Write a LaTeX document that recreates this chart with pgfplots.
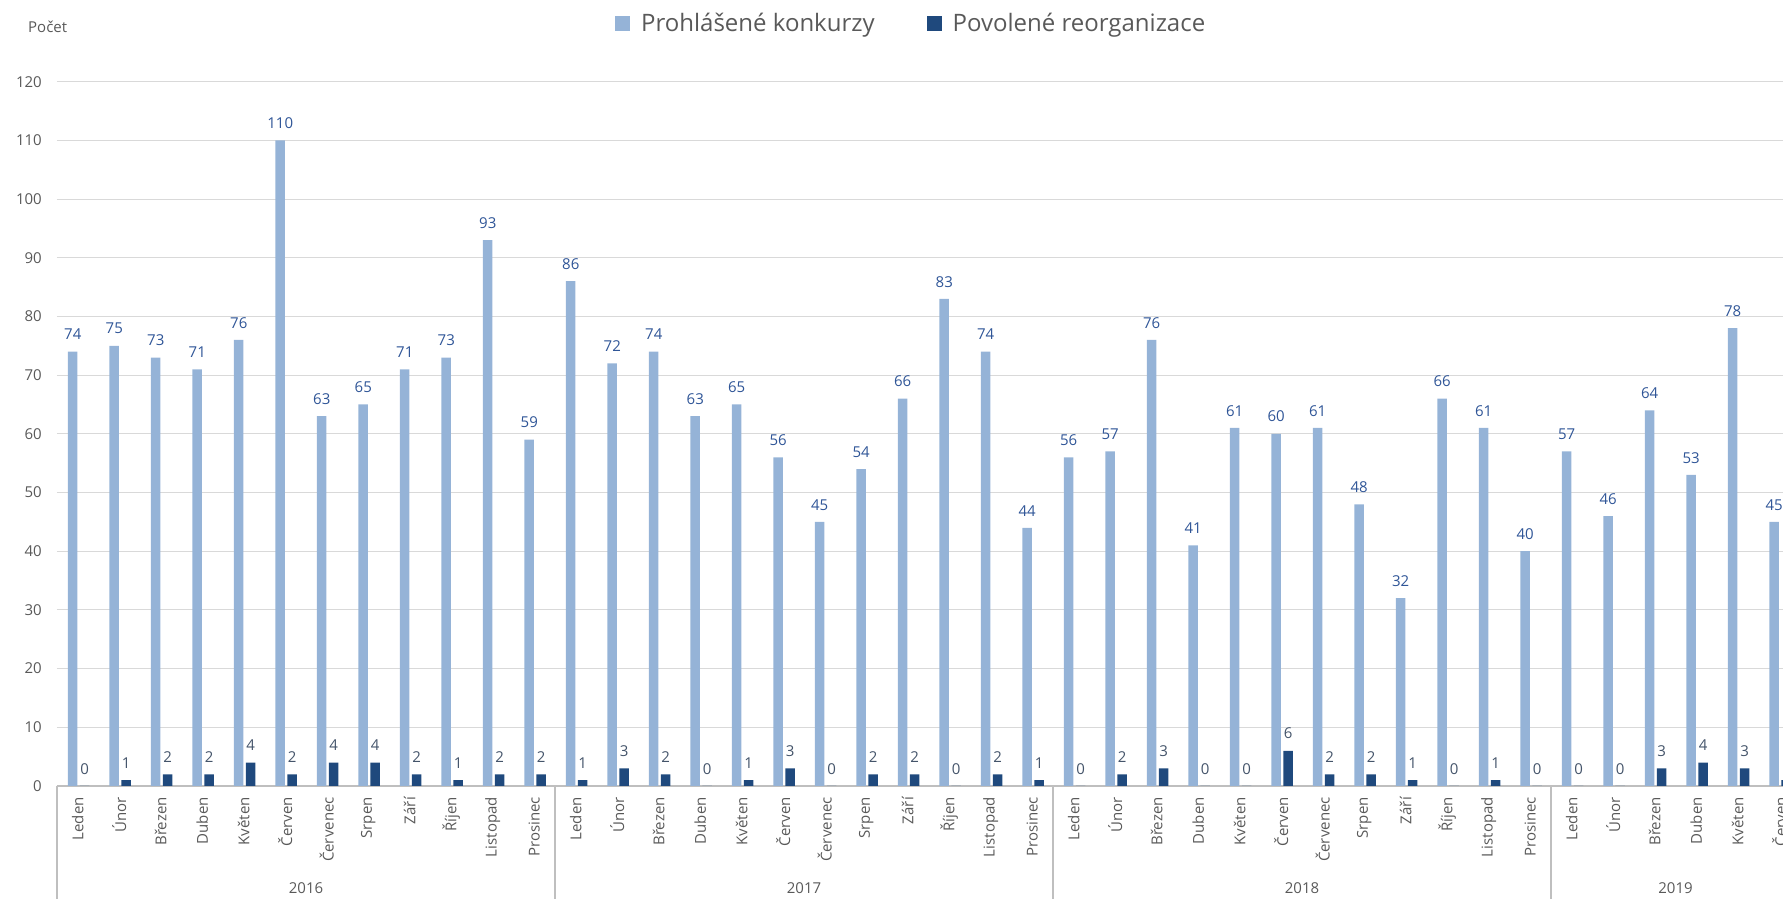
\documentclass[border=0pt]{standalone}
\usepackage{pgfplots}
\pgfplotsset{compat=1.18}
\usepackage{pgfplotstable}
\usepackage{fontspec}
\setmainfont{Open Sans}

\definecolor{lightbar}{HTML}{95B3D7}
\definecolor{darkbar}{HTML}{1F497D}
\definecolor{labblue}{HTML}{2F5597}
\definecolor{labdark}{HTML}{44546A}
\definecolor{txtgray}{HTML}{595959}
\definecolor{gridgray}{HTML}{D9D9D9}
\definecolor{axgray}{HTML}{BFBFBF}

% x = month index (2016-01 .. 2019-06), k = konkurzy, r = reorganizace
\pgfplotstableread{
x k r
0 74 0
1 75 1
2 73 2
3 71 2
4 76 4
5 110 2
6 63 4
7 65 4
8 71 2
9 73 1
10 93 2
11 59 2
12 86 1
13 72 3
14 74 2
15 63 0
16 65 1
17 56 3
18 45 0
19 54 2
20 66 2
21 83 0
22 74 2
23 44 1
24 56 0
25 57 2
26 76 3
27 41 0
28 61 0
29 60 6
30 61 2
31 48 2
32 32 1
33 66 0
34 61 1
35 40 0
36 57 0
37 46 0
38 64 3
39 53 4
40 78 3
41 45 1
}\data

\newcommand{\lbl}{\fontsize{15}{18}\selectfont}

\begin{document}
\begin{tikzpicture}
\begin{axis}[
    at={(57pt,113pt)}, anchor=south west,
    scale only axis, width=1743pt, height=704.3pt,
    xmin=-0.5, xmax=41.5, ymin=0, ymax=120,
    clip=false,
    ybar, bar width=9.5pt,
    axis lines*=left,
    x axis line style={draw=axgray, line width=1.2pt, -},
    y axis line style={draw=none},
    ymajorgrids, grid style={gridgray, line width=1pt},
    ytick={0,10,...,120},
    major tick length=0pt,
    xtick={0,...,41},
    xticklabels={Leden,Únor,Březen,Duben,Květen,Červen,Červenec,Srpen,Září,Říjen,Listopad,Prosinec,
                 Leden,Únor,Březen,Duben,Květen,Červen,Červenec,Srpen,Září,Říjen,Listopad,Prosinec,
                 Leden,Únor,Březen,Duben,Květen,Červen,Červenec,Srpen,Září,Říjen,Listopad,Prosinec,
                 Leden,Únor,Březen,Duben,Květen,Červen},
    xticklabel style={rotate=90, anchor=east, inner sep=0pt, xshift=-11pt, font=\lbl, text=txtgray},
    yticklabel style={anchor=east, inner sep=0pt, xshift=-15pt, font=\lbl, text=txtgray},
    /pgf/number format/assume math mode=true,
    legend style={at={(0.3201,1.0826)}, anchor=west, draw=none, fill=none, inner sep=0pt,
        font=\fontsize{24}{28}\selectfont, text=txtgray,
        /tikz/every odd column/.append style={column sep=9pt},
        /tikz/every even column/.append style={column sep=50pt}},
    legend columns=2,
    legend image code/.code={\fill[#1] (0pt,-7.5pt) rectangle (15pt,7.5pt);},
    nodes near coords,
    every node near coord/.append style={anchor=south, inner sep=0pt, yshift=11.5pt, font=\lbl},
]
\addplot[fill=lightbar, draw=none, bar shift=-5pt,
    every node near coord/.append style={text=labblue}]
    table[x=x, y=k] {\data};
\addlegendentry{Prohlášené konkurzy}
\addplot[fill=darkbar, draw=none, bar shift=7pt,
    every node near coord/.append style={text=labdark}]
    table[x=x, y=r] {\data};
\addlegendentry{Povolené reorganizace}

% year group separators
\pgfplotsinvokeforeach{-0.5,11.5,23.5,35.5}{
    \draw[axgray, line width=1.2pt] (axis cs:#1,0) -- ([yshift=-113pt]axis cs:#1,0);
}
\node[font=\lbl, text=txtgray] at ([yshift=-102pt]axis cs:5.5,0) {2016};
\node[font=\lbl, text=txtgray] at ([yshift=-102pt]axis cs:17.5,0) {2017};
\node[font=\lbl, text=txtgray] at ([yshift=-102pt]axis cs:29.5,0) {2018};
\node[font=\lbl, text=txtgray] at ([yshift=-102pt]axis cs:38.5,0) {2019};
\end{axis}
\node[anchor=west, inner sep=0pt, font=\lbl, text=txtgray] at (28pt,872pt) {Počet};
\pgfresetboundingbox
\useasboundingbox (0,0) rectangle (1783pt,899pt);
\end{tikzpicture}
\end{document}
